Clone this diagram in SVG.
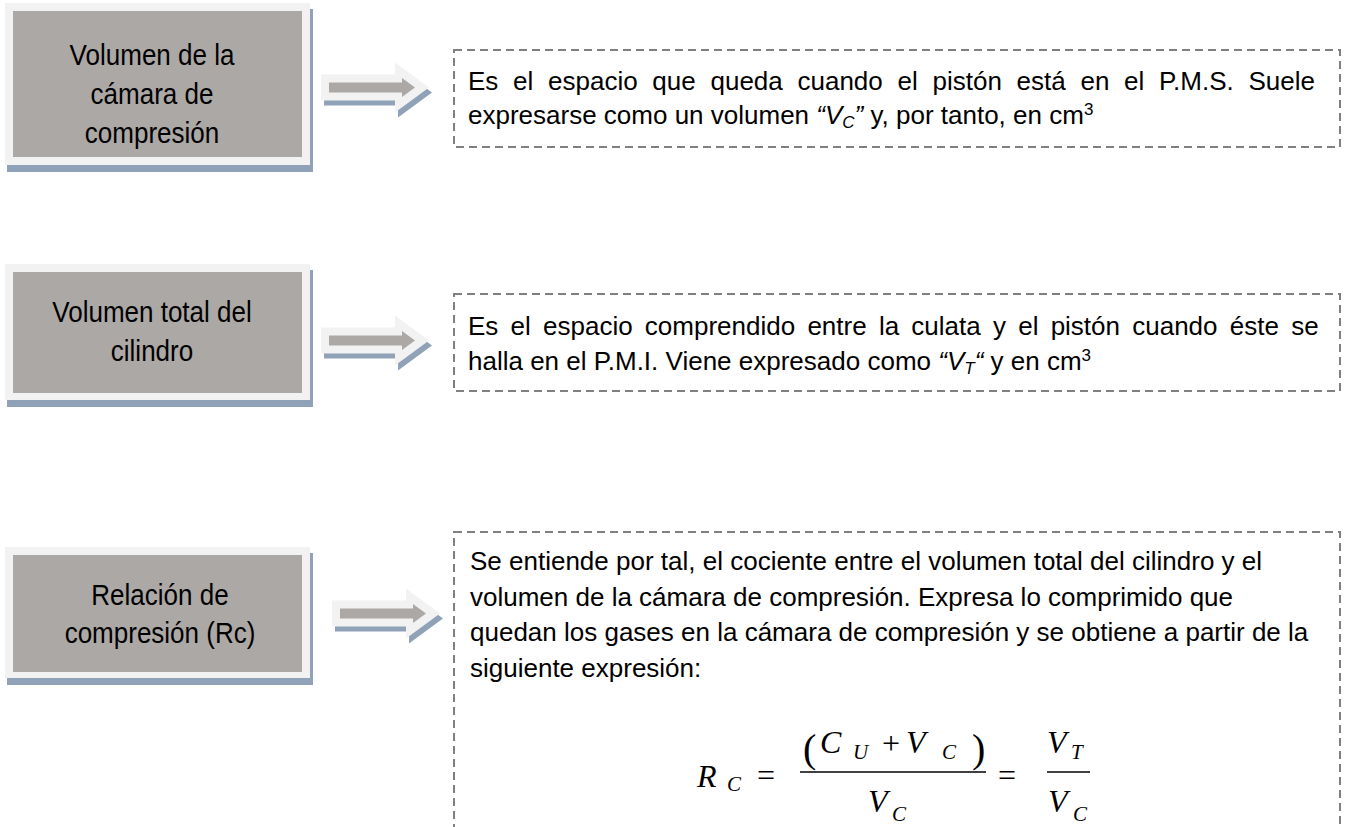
<svg xmlns="http://www.w3.org/2000/svg" xmlns:xlink="http://www.w3.org/1999/xlink" width="1349" height="827" viewBox="0 0 1349 827">
<style>
.bg{fill:#ffffff}
.frame{fill:#f2f2f2}
.inner{fill:#aca8a6}
.shadow{fill:#8fa2b7}
.lbl{font-family:"Liberation Sans",Arial,sans-serif;font-size:30px;fill:#000;text-anchor:middle}
.txt{font-family:"Liberation Sans",Arial,sans-serif;font-size:26px;fill:#000}
.it{font-style:italic}
.sub{font-size:17px}
.sup{font-size:17px}
.dash{fill:none;stroke:#808080;stroke-width:2;stroke-dasharray:8 5}
.m{font-family:"Liberation Serif","Times New Roman",serif;font-style:italic;font-size:32px;fill:#000}
.ms{font-family:"Liberation Serif","Times New Roman",serif;font-style:italic;font-size:21px;fill:#000}
.mo{font-family:"Liberation Serif","Times New Roman",serif;font-style:normal;font-size:32px;fill:#000}
.mp{font-family:"Liberation Serif","Times New Roman",serif;font-style:normal;font-size:40px;fill:#000}
.bar{stroke:#000;stroke-width:1.4}
</style>
<defs>
<g id="arrow">
<polygon class="shadow" transform="translate(3,5)" points="0,-13 74,-13 74,-25 108,0 74,25 74,13 0,13"/>
<polygon class="frame" points="0,-13 74,-13 74,-25 108,0 74,25 74,13 0,13"/>
<polygon class="inner" points="8,-5 81,-5 81,-9.5 94,0 81,9.5 81,5 8,5"/>
</g>
</defs>
<rect class="bg" x="0" y="0" width="1349" height="827"/>

<g id="node-volumen-camara">
<rect class="shadow" x="7" y="9" width="306" height="163"/>
<rect class="frame" x="5" y="3" width="305" height="162"/>
<rect class="inner" x="13" y="11" width="289" height="146"/>
<text class="lbl" transform="translate(152,65) scale(0.867,1)">Volumen de la</text>
<text class="lbl" transform="translate(152,104) scale(0.867,1)">cámara de</text>
<text class="lbl" transform="translate(152,143) scale(0.867,1)">compresión</text>
</g>

<g id="node-volumen-total">
<rect class="shadow" x="7" y="270" width="306" height="137"/>
<rect class="frame" x="5" y="264" width="305" height="136"/>
<rect class="inner" x="13" y="272" width="289" height="121"/>
<text class="lbl" transform="translate(152,322) scale(0.867,1)">Volumen total del</text>
<text class="lbl" transform="translate(152,361) scale(0.867,1)">cilindro</text>
</g>

<g id="node-relacion">
<rect class="shadow" x="7" y="553" width="306" height="132"/>
<rect class="frame" x="5" y="547" width="305" height="131"/>
<rect class="inner" x="13" y="555" width="289" height="117"/>
<text class="lbl" transform="translate(160,605) scale(0.867,1)">Relación de</text>
<text class="lbl" transform="translate(160,643) scale(0.867,1)">compresión (Rc)</text>
</g>

<g id="node-desc-camara">
<rect class="dash" x="454" y="50" width="886" height="97"/>
<text class="txt" x="468" y="90" word-spacing="7.5">Es el espacio que queda cuando el pistón está en el P.M.S. Suele</text>
<text class="txt" x="468" y="124">expresarse como un volumen <tspan class="it">“V</tspan><tspan class="it sub" dy="4">C</tspan><tspan class="it" dy="-4">”</tspan> y, por tanto, en cm<tspan class="sup" dy="-9">3</tspan></text>
</g>

<g id="node-desc-total">
<rect class="dash" x="454" y="294" width="886" height="97"/>
<text class="txt" x="468" y="335" word-spacing="5">Es el espacio comprendido entre la culata y el pistón cuando éste se</text>
<text class="txt" x="468" y="370">halla en el P.M.I. Viene expresado como <tspan class="it">“V</tspan><tspan class="it sub" dy="4">T</tspan><tspan class="it" dy="-4">“</tspan> y en cm<tspan class="sup" dy="-9">3</tspan></text>
</g>

<g id="node-desc-relacion">
<rect class="dash" x="454" y="532" width="886" height="330"/>
<text class="txt" x="470" y="570">Se entiende por tal, el cociente entre el volumen total del cilindro y el</text>
<text class="txt" x="470" y="605.5">volumen de la cámara de compresión. Expresa lo comprimido que</text>
<text class="txt" x="470" y="641">quedan los gases en la cámara de compresión y se obtiene a partir de la</text>
<text class="txt" x="470" y="676.5">siguiente expresión:</text>
<g id="formula">
<text class="m" x="697" y="787">R</text>
<text class="ms" x="727" y="791">C</text>
<text class="mo" x="757" y="786">=</text>
<text class="mp" x="803" y="762">(</text>
<text class="m" x="820" y="753">C</text>
<text class="ms" x="853" y="759">U</text>
<text class="mo" x="882" y="754">+</text>
<text class="m" x="906" y="753">V</text>
<text class="ms" x="942" y="759">C</text>
<text class="mp" x="972" y="762">)</text>
<line class="bar" x1="800" y1="772" x2="986" y2="772"/>
<text class="m" x="868" y="812">V</text>
<text class="ms" x="892" y="821">C</text>
<text class="mo" x="998" y="786">=</text>
<text class="m" x="1047" y="753">V</text>
<text class="ms" x="1071" y="759">T</text>
<line class="bar" x1="1047" y1="772" x2="1090" y2="772"/>
<text class="m" x="1048" y="812">V</text>
<text class="ms" x="1073" y="821">C</text>
</g>
</g>

<g id="connectors">
<use xlink:href="#arrow" x="321" y="87.5"/>
<use xlink:href="#arrow" x="321" y="340.5"/>
<use xlink:href="#arrow" x="332" y="613.5"/>
</g>
</svg>
